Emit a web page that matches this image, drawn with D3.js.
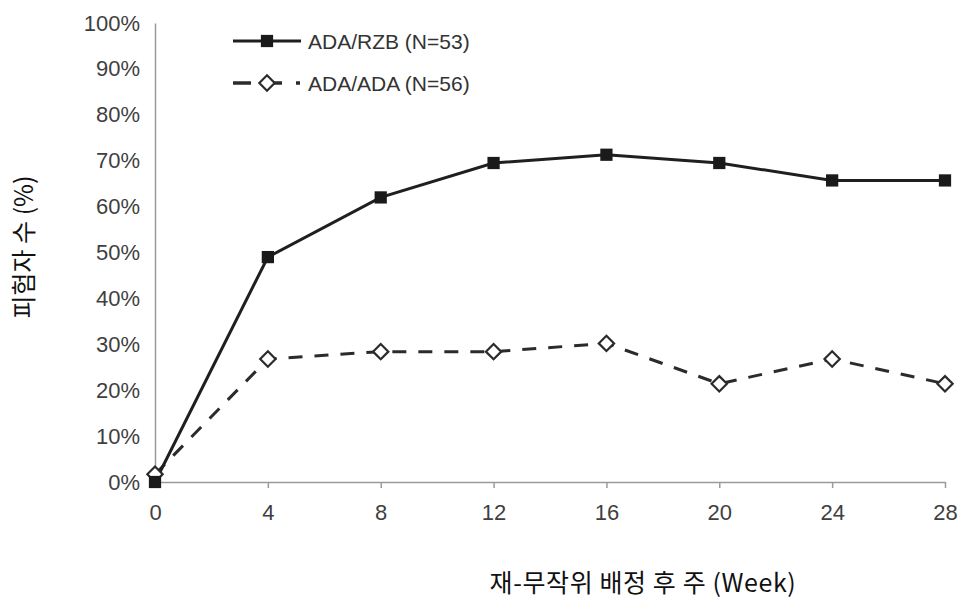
<!DOCTYPE html>
<html>
<head>
<meta charset="utf-8">
<script src="https://cdn.jsdelivr.net/npm/d3@7"></script>
<style>
  body { margin: 0; background: #fff; }
  .axis text { font-family: "Liberation Sans", Arial, sans-serif; font-size: 22px; fill: #3f3f3f; }
  .axis path, .axis line { stroke: #9a9a9a; stroke-width: 1.5; }
</style>
</head>
<body>
<svg class="chart" width="963" height="599"></svg>
<script>
const weeks = [0, 4, 8, 12, 16, 20, 24, 28];
const rzbValues = [0, 49, 62, 69.5, 71.3, 69.5, 65.7, 65.7];
const adaValues = [1.7, 26.8, 28.4, 28.4, 30.2, 21.4, 26.8, 21.4];
const yTicks = [0, 10, 20, 30, 40, 50, 60, 70, 80, 90, 100];
const legendLabels = ['ADA/RZB (N=53)', 'ADA/ADA (N=56)'];

let svg = d3.select('.chart');
let margin = { top: 23, left: 155, right: 18, bottom: 117 };
let width = 963, height = 599;

let xscale = d3.scaleLinear().domain([0, 28]).range([margin.left, width - margin.right]);
let yscale = d3.scaleLinear().domain([0, 100]).range([height - margin.bottom, margin.top]);

let xAxis = d3.axisBottom(xscale).tickValues(weeks).tickSize(6).tickSizeOuter(0).tickPadding(16);
let yAxis = d3.axisLeft(yscale).tickValues(yTicks).tickSize(0).tickPadding(15).tickFormat(d => d + '%');

svg.append('g').attr('class', 'axis xAxis')
    .attr('transform', `translate(0,${yscale(0)})`)
    .call(xAxis);
svg.append('g').attr('class', 'axis yAxis')
    .attr('transform', `translate(${margin.left},0)`)
    .call(yAxis);

let line = d3.line().x((d, i) => xscale(weeks[i])).y(d => yscale(d));

// ADA/ADA dashed
svg.append('path')
    .datum(adaValues)
    .attr('d', line)
    .attr('fill', 'none')
    .attr('stroke', '#2b2b2b')
    .attr('stroke-width', 3)
    .attr('stroke-dasharray', '14,12');

// ADA/RZB solid
svg.append('path')
    .datum(rzbValues)
    .attr('d', line)
    .attr('fill', 'none')
    .attr('stroke', '#1f1f1f')
    .attr('stroke-width', 3);

let diamond = d3.symbol().type(d3.symbolDiamond2).size(150);
let square = d3.symbol().type(d3.symbolSquare).size(150);

svg.append('g').selectAll('path')
    .data(adaValues)
    .join('path')
    .attr('d', diamond)
    .attr('transform', (d, i) => `translate(${xscale(weeks[i])},${yscale(d)})`)
    .attr('fill', '#fff')
    .attr('stroke', '#2b2b2b')
    .attr('stroke-width', 2.2);

svg.append('g').selectAll('path')
    .data(rzbValues)
    .join('path')
    .attr('d', square)
    .attr('transform', (d, i) => `translate(${xscale(weeks[i])},${yscale(d)})`)
    .attr('fill', '#1a1a1a');

// legend
let legendFont = '"Liberation Sans", Arial, sans-serif';
let legend = svg.append('g').attr('transform', 'translate(233,41)');
legend.append('line').attr('x1', 0).attr('x2', 68).attr('y1', 0).attr('y2', 0)
    .attr('stroke', '#1f1f1f').attr('stroke-width', 3);
legend.append('path').attr('d', square).attr('transform', 'translate(34,0)').attr('fill', '#1a1a1a');
legend.append('text').attr('x', 75).attr('y', 7.5).text(legendLabels[0])
    .style('font-family', legendFont).style('font-size', '21px').style('fill', '#333');

let legend2 = svg.append('g').attr('transform', 'translate(233,83)');
legend2.append('line').attr('x1', 0).attr('x2', 18).attr('y1', 0).attr('y2', 0)
    .attr('stroke', '#2b2b2b').attr('stroke-width', 3.5);
legend2.append('line').attr('x1', 40).attr('x2', 49).attr('y1', 0).attr('y2', 0)
    .attr('stroke', '#2b2b2b').attr('stroke-width', 3.5);
legend2.append('line').attr('x1', 63).attr('x2', 67).attr('y1', 0).attr('y2', 0)
    .attr('stroke', '#2b2b2b').attr('stroke-width', 3.5);
legend2.append('path').attr('d', diamond).attr('transform', 'translate(34,0)')
    .attr('fill', '#fff').attr('stroke', '#2b2b2b').attr('stroke-width', 2.2);
legend2.append('text').attr('x', 75).attr('y', 7.5).text(legendLabels[1])
    .style('font-family', legendFont).style('font-size', '21px').style('fill', '#333');

// axis titles
svg.append('text')
    .attr('transform', `translate(33,247)rotate(-90)`)
    .attr('text-anchor', 'middle')
    .style('font-family', '"Noto Sans CJK KR", sans-serif')
    .style('font-size', '25px')
    .style('fill', '#111')
    .text('피험자 수 (%)');

svg.append('text')
    .attr('x', 643)
    .attr('y', 592)
    .attr('text-anchor', 'middle')
    .style('font-family', '"Noto Sans CJK KR", sans-serif')
    .style('font-size', '25px')
    .style('letter-spacing', '0.6px')
    .style('fill', '#111')
    .text('재-무작위 배정 후 주 (Week)');
</script>
</body>
</html>
